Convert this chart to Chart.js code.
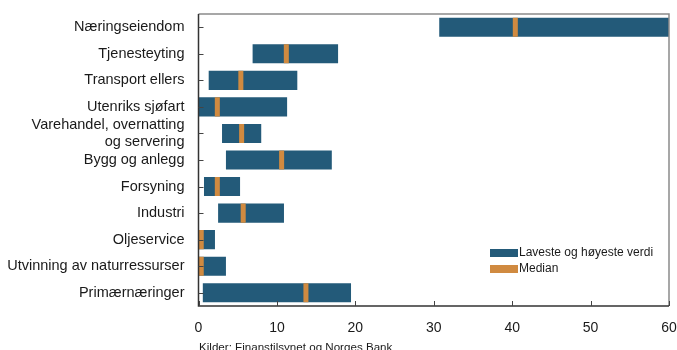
<!DOCTYPE html>
<html>
<head>
<meta charset="utf-8">
<script src="https://cdn.jsdelivr.net/npm/chart.js@4/dist/chart.umd.min.js"></script>
<style>
  html, body { margin: 0; padding: 0; background: #fff; }
  #wrap { width: 677px; height: 350px; position: relative; }
</style>
</head>
<body>
<div id="wrap"><canvas id="chart"></canvas></div>
<script>
const categories = [
  "Næringseiendom",
  "Tjenesteyting",
  "Transport ellers",
  "Utenriks sjøfart",
  ["Varehandel, overnatting", "og servering"],
  "Bygg og anlegg",
  "Forsyning",
  "Industri",
  "Oljeservice",
  "Utvinning av naturressurser",
  "Primærnæringer",
];
const lowValues = [30.7, 6.9, 1.3, 0, 3.0, 3.5, 0.7, 2.5, 0, 0, 0.55];
const highValues = [60, 17.8, 12.6, 11.3, 8.0, 17.0, 5.3, 10.9, 2.1, 3.5, 19.45];
const medianValues = [40.4, 11.2, 5.4, 2.4, 5.5, 10.6, 2.4, 5.7, 0.35, 0.35, 13.7];
const xTicks = [0, 10, 20, 30, 40, 50, 60];
const sourceText = "Kilder: Finanstilsynet og Norges Bank";

const BLUE = "#235a79";
const ORANGE = "#d08a40";
const FONT = "'Liberation Sans', Arial, sans-serif";
const medianHalf = 0.32;

function noPadding(scale) {
  scale.paddingTop = 0;
  scale.paddingBottom = 0;
  scale.paddingLeft = 0;
  scale.paddingRight = 0;
}

const frameAndExtras = {
  id: "frameAndExtras",
  afterDatasetsDraw(chart) {
    const { ctx, chartArea: a, scales } = chart;
    ctx.save();
    // top and right in grey
    ctx.strokeStyle = "#8a8a8a";
    ctx.lineWidth = 1.5;
    ctx.beginPath();
    ctx.moveTo(a.left, a.top);
    ctx.lineTo(a.right, a.top);
    ctx.lineTo(a.right, a.bottom);
    ctx.stroke();
    // left and bottom darker
    ctx.strokeStyle = "#333";
    ctx.beginPath();
    ctx.moveTo(a.left, a.top);
    ctx.lineTo(a.left, a.bottom);
    ctx.lineTo(a.right, a.bottom);
    ctx.stroke();
    // inward ticks
    ctx.lineWidth = 1;
    ctx.strokeStyle = "#444";
    categories.forEach((c, i) => {
      const y = Math.round(scales.y.getPixelForValue(i)) + 0.5;
      ctx.beginPath();
      ctx.moveTo(a.left, y);
      ctx.lineTo(a.left + 5, y);
      ctx.stroke();
    });
    xTicks.forEach((v) => {
      const x = Math.round(scales.x.getPixelForValue(v)) + 0.5;
      ctx.beginPath();
      ctx.moveTo(x, a.bottom);
      ctx.lineTo(x, a.bottom - 5);
      ctx.stroke();
    });
    ctx.restore();
  },
  afterDraw(chart) {
    const { ctx } = chart;
    ctx.save();
    // legend
    const items = [chart.data.datasets[0], chart.data.datasets[1]];
    ctx.font = "12px " + FONT;
    ctx.textBaseline = "middle";
    items.forEach((ds, i) => {
      const y = 253 + i * 16;
      ctx.fillStyle = ds.backgroundColor;
      ctx.fillRect(490, y - 4, 28, 8);
      ctx.fillStyle = "#1a1a1a";
      ctx.fillText(ds.label, 519, y);
    });
    // source
    ctx.font = "11.6px " + FONT;
    ctx.textBaseline = "alphabetic";
    ctx.fillStyle = "#1a1a1a";
    ctx.fillText(sourceText, 199, 351);
    ctx.restore();
  },
};

new Chart(document.getElementById("chart"), {
  type: "bar",
  data: {
    labels: categories,
    datasets: [
      {
        label: "Laveste og høyeste verdi",
        data: lowValues.map((lo, i) => [lo, highValues[i]]),
        backgroundColor: BLUE,
        borderWidth: 0,
        grouped: false,
        order: 2,
      },
      {
        label: "Median",
        data: medianValues.map((m) => [m - medianHalf, m + medianHalf]),
        backgroundColor: ORANGE,
        borderWidth: 0,
        grouped: false,
        order: 1,
      },
    ],
  },
  options: {
    indexAxis: "y",
    responsive: true,
    maintainAspectRatio: false,
    animation: false,
    layout: { padding: { top: 14, right: 8, left: 0, bottom: 0 } },
    datasets: {
      bar: { categoryPercentage: 1, barPercentage: 0.72 },
    },
    plugins: {
      legend: { display: false },
      tooltip: { enabled: false },
    },
    scales: {
      y: {
        grid: { display: false, drawTicks: false },
        border: { display: false },
        ticks: {
          autoSkip: false,
          color: "#1a1a1a",
          font: { family: FONT, size: 14.5 },
          padding: 14,
        },
        afterFit(scale) {
          scale.width = 198.5;
          noPadding(scale);
        },
      },
      x: {
        min: 0,
        max: 60,
        grid: { display: false, drawTicks: false },
        border: { display: false },
        ticks: {
          stepSize: 10,
          autoSkip: false,
          maxRotation: 0,
          color: "#1a1a1a",
          font: { family: FONT, size: 14 },
          padding: 14,
        },
        afterFit(scale) {
          scale.height = 44;
          noPadding(scale);
        },
      },
    },
  },
  plugins: [frameAndExtras],
});
</script>
</body>
</html>
